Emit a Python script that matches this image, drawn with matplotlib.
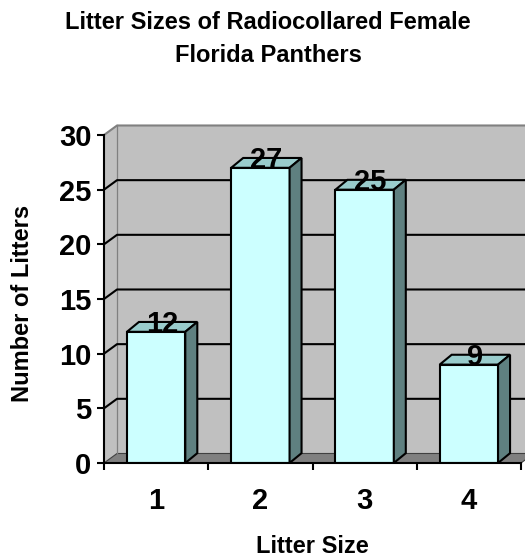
import numpy as np
import matplotlib
matplotlib.use("Agg")
import matplotlib.pyplot as plt
from matplotlib.patches import Polygon

plt.rcParams['font.family'] = ['Liberation Sans', 'DejaVu Sans']
plt.rcParams['font.weight'] = 'bold'

litter_size = ["1", "2", "3", "4"]
n_litters = [12, 27, 25, 9]
y_ticks = [0, 5, 10, 15, 20, 25, 30]

# oblique depth offsets for the walls and the columns
wall_dx, wall_dy = 0.125, 0.87
bar_dx, bar_dy = 0.115, 0.9
bar_w = 0.56
x_lo, x_hi = 0.5, len(n_litters) + 0.5
y_top = y_ticks[-1]

W, H = 525, 560
fig = plt.figure(figsize=(W / 100, H / 100), dpi=100)
ax = fig.add_axes([104 / W, 97 / H, 417 / W, 328 / H])
ax.set_xlim(x_lo, x_hi)
ax.set_ylim(0, y_top)

wall_c = '#c0c0c0'
edge_c = '#808080'
lw = 1.5

# back wall
ax.add_patch(Polygon([(x_lo + wall_dx, wall_dy), (x_hi + wall_dx, wall_dy),
                      (x_hi + wall_dx, y_top + wall_dy), (x_lo + wall_dx, y_top + wall_dy)],
                     closed=True, fc=wall_c, ec='none', clip_on=False, zorder=0))
# side wall
ax.add_patch(Polygon([(x_lo, 0), (x_lo + wall_dx, wall_dy),
                      (x_lo + wall_dx, y_top + wall_dy), (x_lo, y_top)],
                     closed=True, fc=wall_c, ec='none', clip_on=False, zorder=0))
# floor
ax.add_patch(Polygon([(x_lo, 0), (x_hi, 0), (x_hi + wall_dx, wall_dy), (x_lo + wall_dx, wall_dy)],
                     closed=True, fc=edge_c, ec='#404040', lw=0.8, clip_on=False, zorder=0.5))

# wall outline
ax.plot([x_lo, x_lo + wall_dx, x_hi + wall_dx], [y_top, y_top + wall_dy, y_top + wall_dy],
        color=edge_c, lw=lw, clip_on=False, zorder=0.6)
ax.plot([x_lo + wall_dx, x_lo + wall_dx], [wall_dy, y_top + wall_dy],
        color=edge_c, lw=0.9, clip_on=False, zorder=0.6)

# gridlines across side and back walls
for v in y_ticks[1:-1]:
    ax.plot([x_lo, x_lo + wall_dx, x_hi + wall_dx], [v, v + wall_dy, v + wall_dy],
            color='black', lw=lw, clip_on=False, zorder=1)

# columns
xs = np.arange(1, len(n_litters) + 1)
ax.bar(xs, n_litters, width=bar_w, color='#ccffff', edgecolor='black', lw=lw, zorder=3)
for x, v in zip(xs, n_litters):
    l, r = x - bar_w / 2, x + bar_w / 2
    ax.add_patch(Polygon([(l, v), (r, v), (r + bar_dx, v + bar_dy), (l + bar_dx, v + bar_dy)],
                         closed=True, fc='#99cccc', ec='black', lw=lw, zorder=3, clip_on=False))
    ax.add_patch(Polygon([(r, 0), (r + bar_dx, bar_dy), (r + bar_dx, v + bar_dy), (r, v)],
                         closed=True, fc='#5f8080', ec='black', lw=lw, zorder=3, clip_on=False))
    ax.text(x + bar_dx / 2, v, str(v), ha='center', va='baseline',
            fontsize=21, fontweight='bold', zorder=5)

for s in ['top', 'right']:
    ax.spines[s].set_visible(False)
for s in ['left', 'bottom']:
    ax.spines[s].set_linewidth(lw)
    ax.spines[s].set_zorder(4)

ax.set_yticks(y_ticks)
ax.set_yticklabels([str(t) for t in y_ticks])
ax.set_xticks(xs)
ax.set_xticklabels(litter_size)
ax.set_xticks(np.arange(x_lo, x_hi + 0.01, 1.0), minor=True)
ax.tick_params(axis='y', direction='out', length=5, width=lw, pad=4, labelsize=21)
ax.tick_params(axis='x', which='major', length=0, pad=17, labelsize=21)
ax.tick_params(axis='x', which='minor', direction='out', length=5, width=lw)

fig.text(268 / W, 1 - 29 / H, "Litter Sizes of Radiocollared Female",
         ha='center', va='baseline', fontsize=17, fontweight='bold')
fig.text(268 / W, 1 - 62 / H, "Florida Panthers",
         ha='center', va='baseline', fontsize=17, fontweight='bold')
fig.text(312 / W, 1 - 553 / H, "Litter Size", ha='center', va='baseline',
         fontsize=17, fontweight='bold')
fig.text(23 / W, 1 - 303 / H, "Number of Litters", ha='center', va='center',
         rotation=90, fontsize=17, fontweight='bold')

fig.savefig("out.png", dpi=100)
